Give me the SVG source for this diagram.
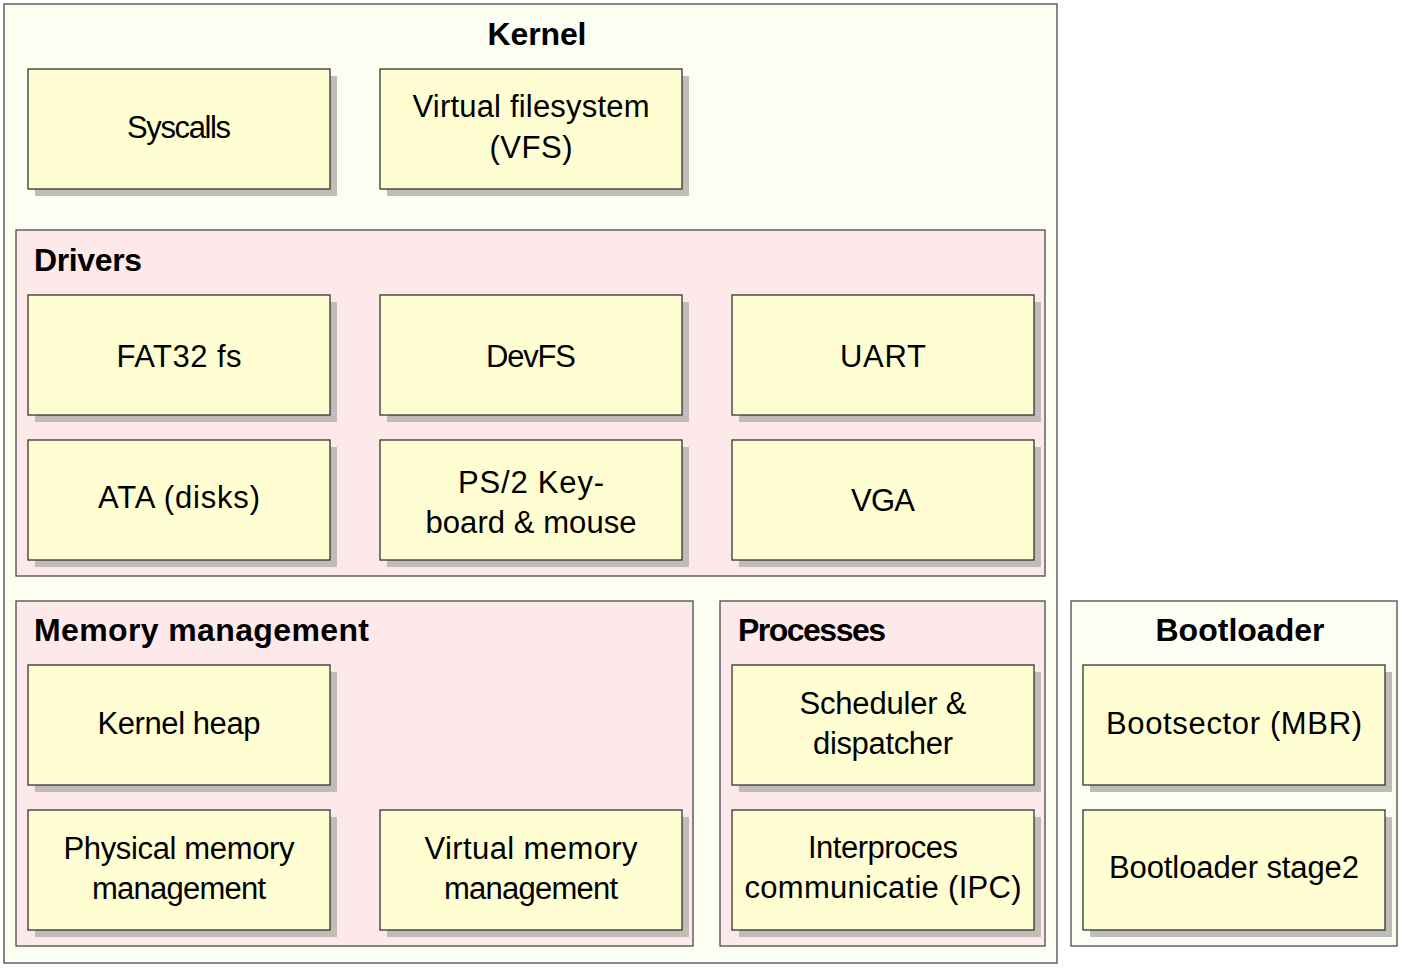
<svg xmlns="http://www.w3.org/2000/svg" width="1402" height="969" viewBox="0 0 1402 969">
<style>
.outer{fill:#fdfef2;stroke:#4a4a4a;stroke-width:1.3}
.pink{fill:#fde8ea;stroke:#4a4a4a;stroke-width:1.3}
.box{fill:#fefed2;stroke:#333;stroke-width:1.3}
.sh{fill:#c0bdb8}
text{font-family:"Liberation Sans","DejaVu Sans",sans-serif;fill:#000}
.t{font-size:31px;text-anchor:middle}
.h{font-size:32px;font-weight:bold}
.hc{font-size:32px;font-weight:bold;text-anchor:middle}
</style>
<defs>
<g id="nb"><rect class="sh" x="7" y="7" width="302" height="120"/><rect class="box" x="0" y="0" width="302" height="120"/></g>
</defs>
<rect width="1402" height="969" fill="#ffffff"/>
<g id="kernel">
<rect class="outer" x="4" y="4" width="1053" height="959"/>
<text class="hc" x="537" y="45" textLength="99">Kernel</text>
</g>
<g id="syscalls"><use href="#nb" x="28" y="69"/><text class="t" x="179" y="138" textLength="104">Syscalls</text></g>
<g id="vfs"><use href="#nb" x="380" y="69"/><text class="t" x="531" y="117" textLength="237">Virtual filesystem</text><text class="t" x="531" y="158" textLength="83">(VFS)</text></g>
<g id="drivers">
<rect class="pink" x="16" y="230" width="1029" height="346"/>
<text class="h" x="34" y="271" textLength="108">Drivers</text>
</g>
<g id="fat32"><use href="#nb" x="28" y="295"/><text class="t" x="179" y="367" textLength="125">FAT32 fs</text></g>
<g id="devfs"><use href="#nb" x="380" y="295"/><text class="t" x="531" y="367" textLength="90">DevFS</text></g>
<g id="uart"><use href="#nb" x="732" y="295"/><text class="t" x="883" y="367" textLength="86">UART</text></g>
<g id="ata"><use href="#nb" x="28" y="440"/><text class="t" x="179" y="508" textLength="162">ATA (disks)</text></g>
<g id="ps2"><use href="#nb" x="380" y="440"/><text class="t" x="531" y="493" textLength="146">PS/2 Key-</text><text class="t" x="531" y="533" textLength="211">board &amp; mouse</text></g>
<g id="vga"><use href="#nb" x="732" y="440"/><text class="t" x="883" y="511" textLength="64">VGA</text></g>
<g id="memory">
<rect class="pink" x="16" y="601" width="677" height="345"/>
<text class="h" x="34" y="641" textLength="335">Memory management</text>
</g>
<g id="kheap"><use href="#nb" x="28" y="665"/><text class="t" x="179" y="734" textLength="163">Kernel heap</text></g>
<g id="pmm"><use href="#nb" x="28" y="810"/><text class="t" x="179" y="859" textLength="231">Physical memory</text><text class="t" x="179" y="899" textLength="174">management</text></g>
<g id="vmm"><use href="#nb" x="380" y="810"/><text class="t" x="531" y="859" textLength="213">Virtual memory</text><text class="t" x="531" y="899" textLength="174">management</text></g>
<g id="processes">
<rect class="pink" x="720" y="601" width="325" height="345"/>
<text class="h" x="738" y="641" textLength="148">Processes</text>
</g>
<g id="sched"><use href="#nb" x="732" y="665"/><text class="t" x="883" y="714" textLength="167">Scheduler &amp;</text><text class="t" x="883" y="754" textLength="140">dispatcher</text></g>
<g id="ipc"><use href="#nb" x="732" y="810"/><text class="t" x="883" y="858" textLength="150">Interproces</text><text class="t" x="883" y="898" textLength="277">communicatie (IPC)</text></g>
<g id="bootloader">
<rect class="outer" x="1071" y="601" width="326" height="345"/>
<text class="hc" x="1240" y="641" textLength="169">Bootloader</text>
</g>
<g id="mbr"><use href="#nb" x="1083" y="665"/><text class="t" x="1234" y="734" textLength="256">Bootsector (MBR)</text></g>
<g id="stage2"><use href="#nb" x="1083" y="810"/><text class="t" x="1234" y="878" textLength="250">Bootloader stage2</text></g>
<g id="connectors"/>
</svg>
